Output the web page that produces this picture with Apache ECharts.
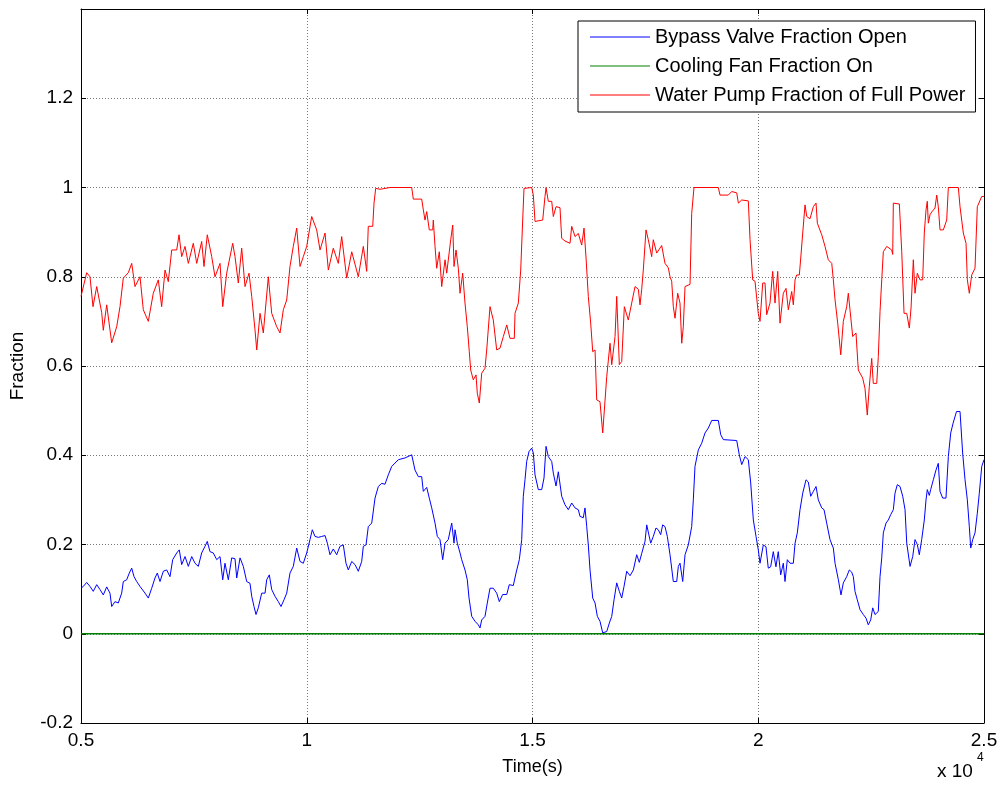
<!DOCTYPE html>
<html>
<head>
<meta charset="utf-8">
<title>Fraction vs Time</title>
<script src="https://cdn.jsdelivr.net/npm/echarts@6.0.0/dist/echarts.min.js"></script>
<style>
  html, body { margin: 0; padding: 0; background: #fff; }
  #chart { width: 1001px; height: 789px; }
</style>
</head>
<body>
<div id="chart"></div>
<script>
// Time (s) and fraction readings for each actuator signal
const seriesNames = ['Bypass Valve Fraction Open', 'Cooling Fan Fraction On', 'Water Pump Fraction of Full Power'];

const bypassValve = [
  [5000,0.102],[5051,0.106],[5126,0.115],[5199,0.106],[5272,0.095],[5348,0.11],[5421,0.099],[5494,0.087],
  [5569,0.105],[5642,0.091],[5680,0.061],[5753,0.072],[5826,0.069],[5901,0.091],[5937,0.117],[6012,0.121],
  [6070,0.136],[6123,0.147],[6174,0.128],[6234,0.117],[6307,0.106],[6418,0.091],[6491,0.08],[6566,0.102],
  [6639,0.125],[6690,0.136],[6750,0.117],[6823,0.14],[6898,0.143],[6971,0.128],[7031,0.166],[7120,0.181],
  [7177,0.188],[7230,0.155],[7304,0.173],[7377,0.151],[7452,0.173],[7525,0.158],[7598,0.151],[7673,0.181],
  [7747,0.196],[7797,0.207],[7857,0.184],[7930,0.181],[8006,0.166],[8079,0.173],[8139,0.121],[8189,0.158],
  [8263,0.121],[8338,0.17],[8411,0.168],[8449,0.125],[8522,0.17],[8595,0.151],[8670,0.117],[8743,0.113],
  [8781,0.084],[8832,0.061],[8876,0.043],[8927,0.058],[9002,0.091],[9076,0.091],[9113,0.121],[9171,0.132],
  [9224,0.099],[9297,0.084],[9370,0.072],[9430,0.061],[9496,0.076],[9556,0.091],[9629,0.136],[9702,0.151],
  [9778,0.192],[9851,0.162],[9924,0.158],[9999,0.181],[10072,0.211],[10123,0.233],[10183,0.218],[10256,0.216],
  [10331,0.218],[10405,0.22],[10456,0.203],[10515,0.177],[10588,0.19],[10663,0.177],[10736,0.196],[10810,0.199],
  [10869,0.158],[10920,0.143],[10996,0.162],[11069,0.155],[11142,0.14],[11217,0.162],[11253,0.196],[11313,0.199],
  [11363,0.24],[11439,0.248],[11512,0.304],[11585,0.33],[11660,0.337],[11733,0.335],[11806,0.356],[11882,0.375],
  [12028,0.39],[12177,0.394],[12325,0.401],[12360,0.398],[12397,0.367],[12471,0.352],[12546,0.352],[12582,0.319],
  [12657,0.328],[12714,0.304],[12768,0.282],[12803,0.285],[12841,0.248],[12892,0.218],[12951,0.211],[13011,0.166],
  [13063,0.203],[13135,0.211],[13211,0.248],[13262,0.203],[13284,0.233],[13335,0.203],[13395,0.181],[13432,0.166],
  [13505,0.143],[13556,0.121],[13594,0.08],[13654,0.039],[13727,0.028],[13800,0.02],[13837,0.013],[13875,0.031],
  [13948,0.039],[13999,0.069],[14059,0.102],[14132,0.102],[14207,0.091],[14265,0.072],[14340,0.088],[14429,0.088],
  [14486,0.11],[14575,0.108],[14635,0.136],[14708,0.166],[14761,0.211],[14796,0.308],[14834,0.345],[14871,0.386],
  [14922,0.408],[14982,0.416],[15018,0.405],[15056,0.356],[15129,0.323],[15204,0.323],[15255,0.349],[15300,0.42],
  [15350,0.397],[15426,0.386],[15461,0.36],[15521,0.331],[15572,0.363],[15609,0.363],[15647,0.308],[15720,0.289],
  [15793,0.278],[15868,0.293],[15942,0.282],[16015,0.278],[16052,0.263],[16125,0.26],[16163,0.282],[16201,0.24],
  [16236,0.199],[16274,0.143],[16334,0.08],[16385,0.069],[16436,0.039],[16495,0.028],[16555,0.002],[16644,0.005],
  [16702,0.024],[16755,0.039],[16806,0.076],[16865,0.114],[16923,0.095],[16976,0.08],[17027,0.106],[17087,0.14],
  [17160,0.13],[17234,0.143],[17308,0.177],[17366,0.16],[17419,0.18],[17492,0.207],[17530,0.244],[17565,0.24],
  [17618,0.203],[17675,0.218],[17735,0.237],[17786,0.233],[17839,0.222],[17883,0.244],[17935,0.24],[17986,0.218],
  [18046,0.177],[18119,0.117],[18194,0.117],[18230,0.151],[18267,0.158],[18327,0.117],[18378,0.177],[18451,0.199],
  [18526,0.24],[18562,0.3],[18599,0.375],[18673,0.412],[18748,0.427],[18821,0.45],[18894,0.461],[18970,0.478],
  [19116,0.478],[19169,0.446],[19227,0.435],[19523,0.433],[19580,0.401],[19634,0.379],[19707,0.397],[19780,0.39],
  [19833,0.338],[19891,0.255],[19951,0.218],[20001,0.188],[20039,0.158],[20112,0.199],[20171,0.195],[20222,0.147],
  [20275,0.15],[20333,0.184],[20392,0.15],[20443,0.184],[20497,0.132],[20555,0.158],[20593,0.117],[20644,0.166],
  [20703,0.158],[20777,0.158],[20815,0.203],[20865,0.226],[20925,0.278],[20985,0.315],[21058,0.345],[21109,0.34],
  [21162,0.308],[21220,0.319],[21280,0.33],[21330,0.3],[21406,0.282],[21457,0.278],[21516,0.248],[21589,0.211],
  [21663,0.192],[21701,0.158],[21774,0.121],[21833,0.087],[21884,0.114],[21959,0.128],[22017,0.143],[22070,0.138],
  [22106,0.128],[22143,0.095],[22194,0.076],[22254,0.054],[22327,0.043],[22387,0.035],[22437,0.02],[22491,0.031],
  [22535,0.058],[22586,0.043],[22659,0.05],[22697,0.128],[22735,0.17],[22770,0.226],[22830,0.248],[22881,0.255],
  [22934,0.267],[22992,0.278],[23029,0.315],[23080,0.334],[23140,0.33],[23200,0.308],[23251,0.278],[23289,0.203],
  [23362,0.151],[23421,0.173],[23472,0.211],[23523,0.2],[23567,0.177],[23620,0.211],[23678,0.255],[23716,0.3],
  [23744,0.323],[23788,0.31],[23819,0.323],[23878,0.345],[23937,0.367],[23988,0.382],[24026,0.319],[24085,0.304],
  [24158,0.304],[24210,0.397],[24263,0.45],[24316,0.472],[24391,0.498],[24469,0.498],[24527,0.405],[24580,0.345],
  [24631,0.3],[24675,0.24],[24706,0.192],[24750,0.211],[24801,0.226],[24852,0.27],[24896,0.315],[24950,0.375],
  [25000,0.39]
];

const coolingFan = [[5000,0],[25000,0]];

const waterPump = [
  [5000,0.756],[5126,0.809],[5199,0.80],[5266,0.733],[5348,0.778],[5458,0.72],[5494,0.68],[5569,0.737],
  [5680,0.652],[5791,0.688],[5864,0.733],[5937,0.797],[6048,0.809],[6123,0.83],[6196,0.778],[6307,0.80],
  [6380,0.726],[6491,0.70],[6601,0.763],[6712,0.793],[6787,0.733],[6861,0.815],[6934,0.789],[7009,0.86],
  [7120,0.86],[7171,0.894],[7230,0.845],[7304,0.868],[7377,0.83],[7487,0.875],[7563,0.83],[7673,0.879],
  [7724,0.823],[7797,0.894],[7895,0.845],[7968,0.80],[8079,0.83],[8139,0.733],[8227,0.808],[8360,0.875],
  [8411,0.845],[8484,0.786],[8559,0.864],[8633,0.778],[8721,0.808],[8781,0.756],[8854,0.681],[8892,0.636],
  [8965,0.718],[9038,0.674],[9149,0.80],[9224,0.718],[9335,0.688],[9408,0.674],[9481,0.726],[9556,0.748],
  [9629,0.823],[9702,0.868],[9778,0.909],[9851,0.823],[9924,0.845],[9999,0.868],[10110,0.935],[10220,0.905],
  [10294,0.86],[10405,0.898],[10478,0.815],[10588,0.864],[10699,0.83],[10774,0.89],[10885,0.797],[10996,0.856],
  [11142,0.80],[11253,0.868],[11328,0.812],[11363,0.913],[11461,0.913],[11490,0.965],[11527,0.998],[11623,0.996],
  [11844,1.0],[12325,1.0],[12360,0.974],[12546,0.974],[12582,0.95],[12619,0.927],[12657,0.946],[12714,0.905],
  [12790,0.905],[12803,0.927],[12841,0.868],[12878,0.819],[12936,0.856],[12989,0.778],[13063,0.838],[13100,0.808],
  [13189,0.883],[13233,0.916],[13262,0.823],[13306,0.86],[13357,0.819],[13395,0.763],[13454,0.808],[13505,0.741],
  [13556,0.688],[13600,0.632],[13631,0.591],[13689,0.569],[13749,0.58],[13777,0.539],[13822,0.517],[13875,0.584],
  [13948,0.595],[13986,0.636],[14059,0.733],[14132,0.703],[14207,0.636],[14280,0.64],[14354,0.666],[14429,0.692],
  [14502,0.662],[14597,0.662],[14613,0.718],[14686,0.741],[14739,0.815],[14783,0.927],[14812,0.998],[14983,1.0],
  [15018,0.983],[15056,0.924],[15226,0.927],[15277,0.98],[15300,1.0],[15350,0.969],[15426,0.969],[15461,0.935],
  [15521,0.957],[15609,0.955],[15647,0.886],[15720,0.88],[15831,0.875],[15868,0.913],[15942,0.89],[16015,0.897],
  [16090,0.871],[16141,0.909],[16186,0.842],[16236,0.756],[16289,0.696],[16334,0.632],[16385,0.636],[16422,0.524],
  [16495,0.52],[16555,0.45],[16644,0.576],[16717,0.651],[16755,0.603],[16828,0.666],[16865,0.756],[16923,0.603],
  [16976,0.61],[17034,0.733],[17122,0.703],[17197,0.741],[17271,0.778],[17344,0.772],[17381,0.737],[17419,0.772],
  [17454,0.815],[17514,0.905],[17565,0.883],[17640,0.845],[17675,0.883],[17751,0.853],[17861,0.87],[17935,0.83],
  [18008,0.82],[18046,0.80],[18083,0.79],[18119,0.733],[18157,0.707],[18216,0.763],[18267,0.741],[18305,0.651],
  [18340,0.688],[18378,0.778],[18489,0.783],[18526,0.942],[18577,1.0],[19116,1.0],[19153,0.983],[19337,0.983],
  [19412,0.991],[19523,0.988],[19560,0.965],[19634,0.972],[19780,0.97],[19818,0.883],[19877,0.793],[19928,0.79],
  [20001,0.718],[20039,0.70],[20099,0.786],[20150,0.786],[20187,0.715],[20260,0.741],[20320,0.812],[20371,0.741],
  [20431,0.812],[20482,0.696],[20555,0.763],[20615,0.774],[20666,0.726],[20741,0.767],[20777,0.737],[20815,0.793],
  [20852,0.804],[20910,0.804],[20941,0.842],[20985,0.898],[21036,0.961],[21074,0.935],[21147,0.93],[21220,0.957],
  [21280,0.965],[21309,0.92],[21406,0.894],[21479,0.868],[21552,0.838],[21628,0.83],[21663,0.793],[21701,0.748],
  [21760,0.696],[21827,0.625],[21884,0.70],[21959,0.733],[21995,0.763],[22032,0.726],[22092,0.666],[22165,0.674],
  [22216,0.591],[22313,0.573],[22364,0.55],[22415,0.49],[22460,0.554],[22513,0.617],[22548,0.561],[22624,0.561],
  [22659,0.621],[22697,0.722],[22735,0.793],[22770,0.856],[22846,0.868],[22956,0.86],[22978,0.85],[22992,0.965],
  [23125,0.963],[23178,0.856],[23229,0.718],[23289,0.718],[23346,0.685],[23384,0.73],[23435,0.838],[23472,0.763],
  [23523,0.808],[23583,0.793],[23642,0.793],[23678,0.898],[23716,0.95],[23744,0.969],[23767,0.92],[23804,0.939],
  [23842,0.945],[23915,0.954],[23953,0.983],[23988,0.957],[24026,0.905],[24099,0.905],[24174,0.927],[24210,1.0],
  [24432,1.0],[24469,0.957],[24542,0.898],[24602,0.875],[24631,0.793],[24675,0.763],[24728,0.804],[24801,0.819],
  [24852,0.957],[24950,0.98],[25000,0.98]
];

// Axis settings
const xTicks = { min: 5000, max: 25000, step: 5000, scale: 10000 };
const yTicks = { min: -0.2, max: 1.4, step: 0.2 };

const FONT = "'Liberation Sans', Arial, Helvetica, sans-serif";
const chart = echarts.init(document.getElementById('chart'), null, { renderer: 'canvas' });

// Box frame: every axis sits on its own edge with inward ticks
const frameAxis = {
  axisLine: { show: true, onZero: false, lineStyle: { color: '#000', width: 1 } },
  axisTick: { show: true, inside: true, length: 5, lineStyle: { color: '#000' } }
};
const gridLine = { show: true, lineStyle: { color: '#777', type: [1, 2], width: 1 } };

function fmtY(v) {
  if (Math.abs(v - yTicks.max) < 1e-9) return '';
  return String(+v.toFixed(1));
}

chart.setOption({
  animation: false,
  backgroundColor: '#fff',
  textStyle: { fontFamily: FONT },
  grid: { left: 81, right: 17, top: 9, bottom: 66, containLabel: false },
  legend: {
    orient: 'vertical',
    left: 578,
    top: 21,
    padding: [6, 10, 7, 12],
    itemWidth: 60,
    itemHeight: 19,
    itemGap: 9,
    icon: 'path://M0,9 L60,9 L60,10 L0,10 Z',
    backgroundColor: '#fff',
    borderColor: '#000',
    borderWidth: 1,
    borderRadius: 0,
    textStyle: { fontFamily: FONT, fontSize: 20, color: '#000', lineHeight: 20 },
    data: seriesNames
  },
  xAxis: [
    Object.assign({
      type: 'value', position: 'bottom',
      min: xTicks.min, max: xTicks.max, interval: xTicks.step,
      name: 'Time(s)', nameLocation: 'middle', nameGap: 35,
      nameTextStyle: { fontFamily: FONT, fontSize: 18, color: '#000' },
      axisLabel: { color: '#000', fontFamily: FONT, fontSize: 19, margin: 8,
        formatter: v => String(v / xTicks.scale) },
      splitLine: gridLine
    }, frameAxis),
    Object.assign({
      type: 'value', position: 'top',
      min: xTicks.min, max: xTicks.max, interval: xTicks.step,
      axisLabel: { show: false }, splitLine: { show: false }
    }, frameAxis)
  ],
  yAxis: [
    Object.assign({
      type: 'value', position: 'left',
      min: yTicks.min, max: yTicks.max, interval: yTicks.step,
      name: 'Fraction', nameLocation: 'middle', nameGap: 54,
      nameTextStyle: { fontFamily: FONT, fontSize: 19, color: '#000' },
      axisLabel: { color: '#000', fontFamily: FONT, fontSize: 19, margin: 8, formatter: fmtY },
      splitLine: gridLine
    }, frameAxis),
    Object.assign({
      type: 'value', position: 'right',
      min: yTicks.min, max: yTicks.max, interval: yTicks.step,
      axisLabel: { show: false }, splitLine: { show: false }
    }, frameAxis)
  ],
  series: [
    { name: seriesNames[0], type: 'line', data: bypassValve, symbol: 'none',
      lineStyle: { color: '#0000ff', width: 1 }, itemStyle: { color: '#0000ff' }, z: 3 },
    { name: seriesNames[1], type: 'line', data: coolingFan, symbol: 'none',
      lineStyle: { color: '#008000', width: 1.6 }, itemStyle: { color: '#008000' }, z: 3 },
    { name: seriesNames[2], type: 'line', data: waterPump, symbol: 'none',
      lineStyle: { color: '#ff0000', width: 1 }, itemStyle: { color: '#ff0000' }, z: 3 }
  ],
  graphic: [
    { type: 'text', left: 937, top: 762,
      style: { text: 'x 10', fontFamily: FONT, fontSize: 19, fill: '#000' } },
    { type: 'text', left: 977, top: 752,
      style: { text: '4', fontFamily: FONT, fontSize: 12, fill: '#000' } }
  ]
});
</script>
</body>
</html>
